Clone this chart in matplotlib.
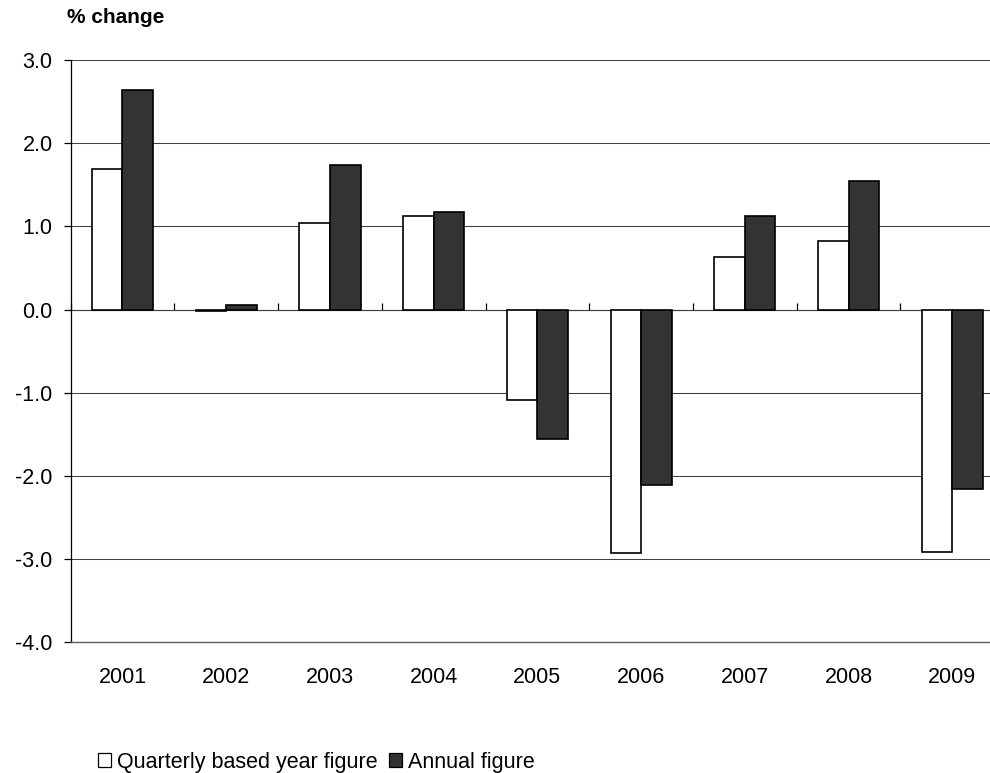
import numpy as np
import matplotlib.pyplot as plt
from matplotlib.patches import Patch

plt.rcParams['font.family'] = ['Liberation Sans', 'DejaVu Sans']

# yearly % change, two ways of computing it
years = ['2001', '2002', '2003', '2004', '2005', '2006', '2007', '2008', '2009']
quarterly = [1.69, -0.02, 1.04, 1.12, -1.09, -2.93, 0.63, 0.82, -2.91]
annual = [2.64, 0.05, 1.74, 1.17, -1.56, -2.11, 1.12, 1.54, -2.16]

ymin, ymax = -4.0, 3.0
x = np.arange(len(years))
w = 0.295

fig = plt.figure(figsize=(9.9, 7.73), dpi=100)
ax = fig.add_axes([0.0713, 0.1691, 0.943, 0.7533])

ax.set_ylim(ymin, ymax)
ax.set_xlim(-0.5, len(years) - 0.5)
ax.set_yticks(np.arange(ymin, ymax + 0.1, 1.0))
ax.yaxis.set_major_formatter(plt.FuncFormatter(lambda v, p: '%.1f' % v))
ax.grid(axis='y', color='#404040', linewidth=0.75)
ax.set_axisbelow(True)

ax.bar(x - w / 2, quarterly, w, color='white', edgecolor='black', linewidth=1.2, zorder=3)
ax.bar(x + w / 2, annual, w, color='#333333', edgecolor='black', linewidth=1.2, zorder=3)

for s in ['top', 'right']:
    ax.spines[s].set_visible(False)
ax.spines['left'].set_linewidth(0.9)
ax.spines['bottom'].set_color('#606060')
ax.spines['bottom'].set_linewidth(1.0)

ax.tick_params(axis='y', length=5, width=0.9, pad=8, labelsize=15.5)
ax.set_xticks(x)
ax.set_xticklabels(years)
ax.tick_params(axis='x', length=0, pad=17.5, labelsize=15.5)

# category axis sitting on zero, with boundary ticks
zero_loc = (0 - ymin) / (ymax - ymin)
sec = ax.secondary_xaxis(zero_loc)
sec.set_xticks(np.arange(-0.5, len(years) - 0.4, 1.0))
sec.set_xticklabels([])
sec.tick_params(direction='out', length=5, width=0.9)
sec.spines['bottom'].set_linewidth(0.9)

fig.text(0.0677, 0.978, '% change', fontsize=15, fontweight='bold', va='center', ha='left')

handles = [Patch(facecolor='white', edgecolor='black', linewidth=0.9, label='Quarterly based year figure'),
           Patch(facecolor='#333333', edgecolor='black', linewidth=0.9, label='Annual figure')]
fig.legend(handles=handles, loc='center left', bbox_to_anchor=(0.088, 0.014), ncol=2,
           frameon=False, fontsize=15.5, handlelength=0.6, handleheight=0.6,
           handletextpad=0.3, columnspacing=0.5, borderpad=0)

fig.savefig('out.png', dpi=100)
